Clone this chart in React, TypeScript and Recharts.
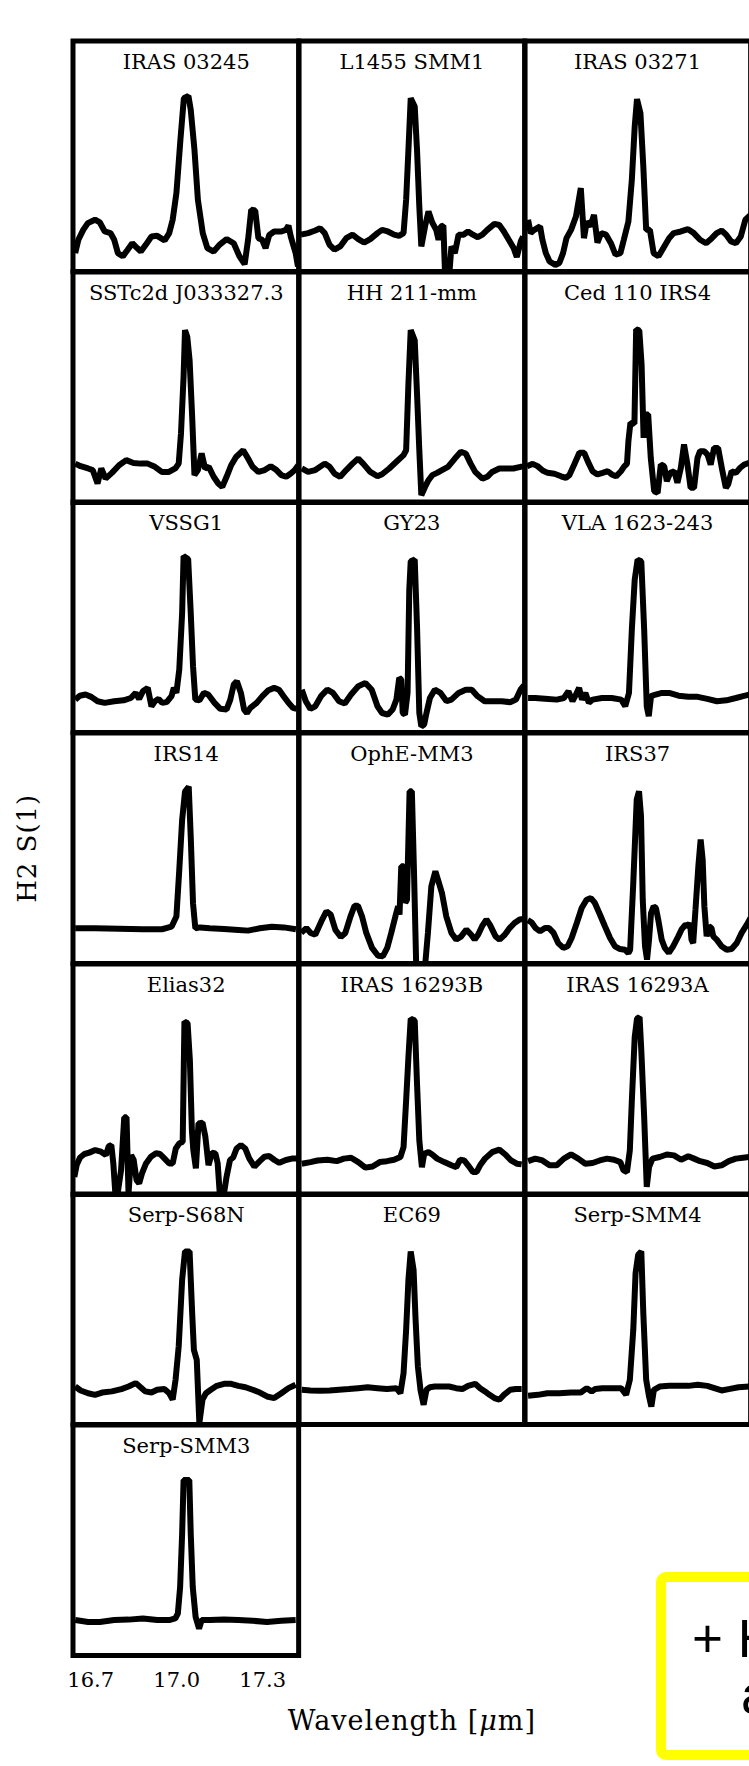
import React from 'react';
import { LineChart, Line, XAxis, YAxis, ReferenceArea } from 'recharts';

// H2 S(1) 17.03 um line profiles, one panel per source.
// Flux is in arbitrary units: 0 = bottom of the panel frame, 100 = top.
type Pt = [number, number];

const iras03245: Pt[] = [
  [16.646, 8.0], [16.657, 13.8], [16.674, 18.1], [16.69, 21.0], [16.715, 22.5], [16.732, 21.3], [16.749, 17.4],
  [16.769, 16.7], [16.782, 13.8], [16.795, 8.0], [16.812, 6.6], [16.829, 9.5], [16.845, 12.3], [16.862, 10.2],
  [16.875, 8.7], [16.892, 11.6], [16.912, 15.2], [16.932, 15.5], [16.958, 13.5], [16.974, 16.7], [16.986, 22.5],
  [16.999, 34.0], [17.013, 57.2], [17.025, 75.2], [17.041, 76.2], [17.049, 70.2], [17.062, 52.8], [17.074, 31.1],
  [17.091, 16.7], [17.107, 10.2], [17.129, 8.7], [17.149, 11.6], [17.174, 14.1], [17.199, 12.3], [17.219, 6.6],
  [17.237, 3.2], [17.249, 13.8], [17.26, 26.8], [17.274, 26.5], [17.285, 14.5], [17.298, 13.8], [17.31, 10.2],
  [17.323, 15.9], [17.34, 17.4], [17.365, 17.4], [17.381, 18.1], [17.39, 19.9], [17.398, 15.2], [17.415, 8.0],
  [17.423, 2.2],
];

const l1455smm1: Pt[] = [
  [16.645, 16.0], [16.67, 16.7], [16.695, 17.8], [16.712, 18.8], [16.728, 16.7], [16.745, 11.6], [16.762, 9.5],
  [16.782, 10.9], [16.803, 14.5], [16.825, 16.0], [16.845, 14.1], [16.865, 12.6], [16.887, 14.1], [16.912, 16.7],
  [16.928, 18.1], [16.948, 17.4], [16.97, 16.0], [16.987, 15.5], [17.003, 16.7], [17.012, 31.1], [17.02, 52.8],
  [17.028, 75.2], [17.042, 71.6], [17.05, 52.8], [17.058, 28.2], [17.065, 10.9], [17.078, 19.6], [17.09, 26.1],
  [17.103, 21.3], [17.117, 18.1], [17.125, 13.8], [17.133, 19.6], [17.142, 19.9], [17.148, -2.0], [17.162, -2.0],
  [17.17, 10.9], [17.182, 8.0], [17.195, 16.0], [17.212, 16.0], [17.228, 17.4], [17.245, 16.0], [17.262, 14.9],
  [17.278, 16.0], [17.295, 18.1], [17.32, 20.7], [17.337, 20.2], [17.353, 17.4], [17.37, 13.8], [17.387, 10.2],
  [17.398, 6.3], [17.412, 13.1], [17.42, 15.2],
];

const iras03271: Pt[] = [
  [16.649, 22.5], [16.658, 16.7], [16.671, 18.1], [16.691, 19.6], [16.699, 13.8], [16.711, 8.0], [16.724, 4.4],
  [16.744, 2.9], [16.758, 3.7], [16.771, 8.0], [16.783, 14.5], [16.799, 18.1], [16.816, 23.9], [16.833, 36.2],
  [16.844, 14.5], [16.854, 21.7], [16.866, 19.6], [16.879, 24.6], [16.891, 12.6], [16.904, 16.7], [16.921, 16.0],
  [16.938, 12.3], [16.954, 7.3], [16.971, 8.0], [16.983, 13.8], [16.999, 21.7], [17.011, 39.8], [17.021, 62.9],
  [17.029, 74.8], [17.041, 68.7], [17.051, 45.6], [17.061, 18.1], [17.074, 18.1], [17.087, 8.0], [17.104, 6.6],
  [17.124, 10.9], [17.141, 14.5], [17.157, 16.7], [17.182, 17.4], [17.207, 18.4], [17.227, 16.7], [17.249, 13.8],
  [17.27, 12.3], [17.29, 14.5], [17.307, 16.7], [17.324, 17.8], [17.34, 16.0], [17.357, 13.1], [17.374, 12.3],
  [17.391, 15.2], [17.407, 22.5], [17.424, 24.5],
];

const sstc2d: Pt[] = [
  [16.646, 16.9], [16.665, 15.8], [16.691, 14.8], [16.707, 14.1], [16.724, 8.3], [16.737, 14.8], [16.752, 10.4],
  [16.774, 12.9], [16.799, 16.2], [16.824, 18.4], [16.849, 17.2], [16.874, 16.9], [16.899, 16.9], [16.924, 15.5],
  [16.948, 13.3], [16.973, 13.3], [16.995, 14.8], [17.007, 16.9], [17.015, 30.0], [17.024, 54.5], [17.029, 74.8],
  [17.037, 71.8], [17.045, 61.8], [17.054, 37.2], [17.062, 11.9], [17.074, 14.1], [17.087, 21.3], [17.099, 14.8],
  [17.112, 15.5], [17.129, 11.2], [17.145, 8.3], [17.159, 6.8], [17.174, 11.2], [17.19, 16.2], [17.207, 19.8],
  [17.232, 22.7], [17.249, 19.1], [17.265, 15.5], [17.285, 13.3], [17.307, 14.1], [17.328, 15.8], [17.348, 14.1],
  [17.365, 11.9], [17.382, 11.2], [17.398, 12.6], [17.412, 14.1], [17.424, 16.2],
];

const hh211mm: Pt[] = [
  [16.648, 14.8], [16.67, 13.3], [16.695, 14.1], [16.728, 16.9], [16.745, 15.5], [16.762, 12.6], [16.782, 11.2],
  [16.803, 14.1], [16.825, 16.9], [16.845, 19.1], [16.862, 16.9], [16.887, 13.3], [16.912, 11.4], [16.928, 12.3],
  [16.953, 14.8], [16.978, 17.7], [17.003, 20.6], [17.012, 22.7], [17.02, 51.6], [17.028, 74.8], [17.042, 70.4],
  [17.05, 47.3], [17.058, 22.7], [17.065, 3.2], [17.078, 6.8], [17.09, 9.7], [17.103, 11.9], [17.12, 12.9],
  [17.137, 14.1], [17.158, 15.5], [17.182, 19.1], [17.203, 22.0], [17.22, 21.3], [17.237, 16.9], [17.253, 13.3],
  [17.278, 10.4], [17.295, 11.2], [17.312, 13.3], [17.337, 14.8], [17.361, 14.8], [17.386, 14.8], [17.411, 15.5],
  [17.424, 15.6],
];

const ced110irs4: Pt[] = [
  [16.645, 15.8], [16.665, 16.8], [16.682, 15.8], [16.7, 13.9], [16.717, 12.9], [16.741, 12.5], [16.764, 11.4],
  [16.781, 10.7], [16.793, 11.9], [16.81, 16.5], [16.828, 21.6], [16.845, 21.6], [16.857, 18.0], [16.874, 13.6],
  [16.891, 12.2], [16.909, 12.9], [16.927, 13.6], [16.941, 12.2], [16.956, 11.4], [16.973, 13.6], [16.985, 15.8],
  [16.994, 16.8], [16.999, 26.6], [17.006, 34.6], [17.02, 34.2], [17.026, 75.1], [17.037, 74.7], [17.045, 59.9],
  [17.052, 28.1], [17.06, 38.2], [17.068, 38.2], [17.077, 19.4], [17.089, 4.9], [17.101, 4.2], [17.112, 16.5],
  [17.124, 15.8], [17.133, 9.3], [17.145, 12.9], [17.159, 13.6], [17.17, 8.6], [17.182, 15.1], [17.193, 25.2],
  [17.205, 16.5], [17.216, 6.4], [17.228, 6.4], [17.24, 19.4], [17.249, 22.3], [17.263, 22.3], [17.275, 20.8],
  [17.286, 16.5], [17.298, 23.7], [17.312, 23.7], [17.327, 13.6], [17.339, 6.4], [17.347, 7.9], [17.359, 13.6],
  [17.374, 12.9], [17.389, 15.1], [17.403, 16.5], [17.42, 17.2],
];

const vssg1: Pt[] = [
  [16.646, 14.3], [16.662, 16.0], [16.682, 16.5], [16.702, 15.5], [16.724, 13.6], [16.749, 12.9], [16.782, 13.6],
  [16.815, 14.0], [16.84, 15.0], [16.857, 17.2], [16.869, 14.6], [16.882, 17.9], [16.899, 19.4], [16.912, 11.4],
  [16.924, 13.6], [16.937, 14.6], [16.949, 12.9], [16.965, 13.2], [16.982, 15.8], [16.99, 19.4], [16.999, 17.2],
  [17.009, 27.3], [17.019, 51.9], [17.024, 76.5], [17.04, 75.3], [17.049, 51.9], [17.057, 28.8], [17.065, 14.3],
  [17.079, 14.0], [17.095, 17.2], [17.11, 16.5], [17.132, 12.9], [17.152, 10.3], [17.174, 10.0], [17.187, 14.3],
  [17.199, 20.8], [17.21, 22.3], [17.224, 17.2], [17.235, 10.0], [17.245, 8.5], [17.257, 10.7], [17.279, 12.9],
  [17.299, 15.8], [17.32, 18.4], [17.34, 19.4], [17.357, 18.6], [17.373, 15.8], [17.39, 12.9], [17.406, 10.7],
  [17.418, 10.3],
];

const gy23: Pt[] = [
  [16.648, 18.6], [16.662, 13.6], [16.678, 10.3], [16.695, 11.4], [16.715, 15.8], [16.737, 18.6], [16.757, 17.2],
  [16.778, 13.6], [16.798, 12.6], [16.82, 16.5], [16.845, 20.1], [16.87, 21.5], [16.892, 18.6], [16.912, 11.4],
  [16.928, 8.5], [16.948, 7.8], [16.965, 10.0], [16.978, 14.3], [16.988, 23.7], [16.995, 23.0], [17.0, 8.5],
  [17.008, 7.8], [17.017, 17.2], [17.023, 62.0], [17.028, 74.3], [17.042, 75.0], [17.05, 46.1], [17.058, 8.5],
  [17.065, 2.7], [17.075, 3.5], [17.083, 8.5], [17.095, 15.0], [17.112, 18.6], [17.132, 17.2], [17.153, 13.6],
  [17.17, 14.3], [17.195, 17.2], [17.22, 18.6], [17.241, 18.6], [17.261, 15.8], [17.286, 13.6], [17.311, 13.6],
  [17.345, 13.6], [17.375, 13.2], [17.395, 14.3], [17.411, 18.6], [17.423, 20.5],
];

const vla1623: Pt[] = [
  [16.649, 15.0], [16.674, 15.0], [16.708, 14.7], [16.749, 14.3], [16.774, 15.0], [16.79, 17.9], [16.804, 13.6],
  [16.816, 16.5], [16.827, 19.4], [16.837, 14.3], [16.849, 17.2], [16.861, 12.9], [16.874, 14.3], [16.907, 15.0],
  [16.941, 15.0], [16.974, 14.3], [16.988, 11.4], [17.001, 17.2], [17.011, 44.7], [17.021, 66.3], [17.031, 75.0],
  [17.044, 74.3], [17.054, 44.7], [17.063, 11.4], [17.07, 7.1], [17.078, 15.8], [17.094, 16.5], [17.116, 17.2],
  [17.141, 17.2], [17.174, 16.0], [17.208, 15.5], [17.241, 15.5], [17.274, 14.6], [17.308, 13.6], [17.341, 14.0],
  [17.374, 15.0], [17.399, 15.8], [17.421, 16.5],
];

const irs14: Pt[] = [
  [16.646, 15.3], [16.715, 15.3], [16.799, 15.1], [16.882, 14.9], [16.949, 14.9], [16.982, 16.0], [16.999, 20.4],
  [17.009, 40.6], [17.019, 62.3], [17.029, 74.6], [17.042, 76.7], [17.049, 55.0], [17.057, 26.1], [17.065, 15.3],
  [17.082, 15.7], [17.115, 15.3], [17.165, 15.0], [17.215, 14.6], [17.249, 14.3], [17.29, 15.3], [17.332, 16.0],
  [17.374, 15.7], [17.416, 14.9],
];

const ophemm3: Pt[] = [
  [16.646, 13.3], [16.664, 15.4], [16.679, 13.3], [16.695, 12.5], [16.716, 18.3], [16.734, 22.7], [16.749, 21.2],
  [16.765, 14.7], [16.784, 11.5], [16.8, 13.3], [16.818, 20.5], [16.832, 25.1], [16.844, 25.1], [16.858, 20.5],
  [16.873, 13.3], [16.893, 6.8], [16.914, 3.4], [16.931, 3.2], [16.946, 6.8], [16.96, 13.3], [16.976, 21.2],
  [16.984, 24.8], [16.989, 21.2], [16.995, 42.2], [17.004, 42.2], [17.009, 26.3], [17.015, 27.7], [17.024, 74.7],
  [17.032, 74.7], [17.039, 42.2], [17.047, 0.1], [17.059, -2.6], [17.077, -2.6], [17.088, 13.3], [17.1, 33.5],
  [17.114, 40.0], [17.123, 36.4], [17.137, 30.6], [17.152, 20.5], [17.17, 13.3], [17.187, 10.4], [17.204, 11.8],
  [17.222, 14.7], [17.239, 12.5], [17.251, 10.4], [17.263, 12.5], [17.277, 16.2], [17.292, 19.1], [17.304, 16.9],
  [17.324, 11.8], [17.338, 10.4], [17.356, 12.5], [17.373, 15.4], [17.39, 17.6], [17.408, 19.1], [17.42, 19.3],
];

const irs37: Pt[] = [
  [16.648, 18.8], [16.661, 17.9], [16.675, 15.4], [16.691, 14.0], [16.708, 15.4], [16.722, 15.4], [16.738, 13.3],
  [16.754, 8.9], [16.772, 6.8], [16.787, 7.5], [16.801, 11.1], [16.819, 17.6], [16.836, 24.1], [16.853, 27.7],
  [16.868, 28.4], [16.882, 26.3], [16.9, 21.2], [16.917, 16.2], [16.935, 11.1], [16.952, 7.5], [16.97, 6.3],
  [16.987, 6.0], [16.999, 4.6], [17.005, 6.0], [17.016, 35.0], [17.028, 71.1], [17.036, 74.7], [17.043, 63.9],
  [17.049, 27.7], [17.057, 7.5], [17.064, 1.7], [17.071, 10.4], [17.078, 21.9], [17.087, 24.8], [17.095, 24.1],
  [17.103, 19.1], [17.115, 10.4], [17.126, 6.8], [17.14, 4.6], [17.155, 7.5], [17.173, 11.8], [17.184, 14.7],
  [17.198, 16.9], [17.208, 16.2], [17.214, 17.6], [17.219, 10.4], [17.225, 8.9], [17.233, 23.4], [17.243, 42.2],
  [17.251, 53.8], [17.258, 45.1], [17.264, 24.8], [17.272, 11.8], [17.28, 16.2], [17.289, 15.4], [17.295, 11.8],
  [17.307, 10.4], [17.324, 7.5], [17.342, 6.0], [17.359, 6.3], [17.377, 8.9], [17.394, 13.3], [17.412, 16.9],
  [17.425, 19.8],
];

const elias32: Pt[] = [
  [16.643, 7.7], [16.651, 12.8], [16.663, 16.1], [16.678, 17.6], [16.695, 18.2], [16.716, 19.3], [16.736, 18.6],
  [16.753, 17.1], [16.763, 21.0], [16.772, 21.5], [16.779, 13.5], [16.786, 0.5], [16.794, 0.5], [16.806, 10.6],
  [16.817, 33.5], [16.825, 33.5], [16.832, 0.5], [16.841, 17.1], [16.85, 15.0], [16.86, 6.3], [16.869, 4.9],
  [16.879, 9.2], [16.893, 13.5], [16.91, 16.4], [16.928, 17.9], [16.942, 17.6], [16.957, 15.7], [16.974, 13.5],
  [16.986, 13.5], [16.997, 20.0], [17.009, 22.2], [17.021, 22.9], [17.027, 75.0], [17.038, 74.3], [17.046, 58.3],
  [17.053, 27.9], [17.058, 19.3], [17.067, 11.4], [17.076, 30.9], [17.09, 31.2], [17.1, 25.1], [17.111, 12.8],
  [17.123, 18.2], [17.135, 17.9], [17.143, 13.5], [17.151, -1.0], [17.163, -1.0], [17.174, 7.7], [17.186, 15.0],
  [17.197, 16.1], [17.209, 20.0], [17.224, 21.5], [17.239, 20.0], [17.253, 15.7], [17.271, 12.1], [17.288, 14.3],
  [17.306, 16.4], [17.323, 16.7], [17.341, 15.0], [17.358, 13.8], [17.381, 15.0], [17.405, 15.7], [17.422, 15.7],
];

const iras16293b: Pt[] = [
  [16.648, 13.4], [16.678, 14.1], [16.703, 14.8], [16.737, 15.1], [16.77, 14.5], [16.795, 15.6], [16.82, 16.0],
  [16.845, 14.1], [16.87, 11.7], [16.895, 12.2], [16.92, 14.1], [16.945, 14.5], [16.97, 15.1], [16.992, 16.3],
  [17.003, 20.6], [17.012, 40.8], [17.02, 59.6], [17.028, 76.3], [17.042, 75.5], [17.05, 48.1], [17.058, 23.5],
  [17.067, 11.9], [17.075, 17.7], [17.09, 18.4], [17.103, 17.4], [17.12, 15.6], [17.145, 14.1], [17.17, 12.7],
  [17.187, 11.9], [17.2, 15.1], [17.215, 14.8], [17.228, 12.7], [17.245, 9.8], [17.258, 9.8], [17.27, 12.7],
  [17.287, 15.6], [17.312, 18.4], [17.337, 19.5], [17.358, 17.4], [17.378, 14.8], [17.398, 13.4], [17.415, 13.1],
];

const iras16293a: Pt[] = [
  [16.649, 14.5], [16.674, 15.6], [16.699, 14.8], [16.724, 12.7], [16.749, 12.7], [16.774, 15.6], [16.799, 17.4],
  [16.824, 15.6], [16.849, 13.4], [16.874, 13.7], [16.899, 14.8], [16.924, 15.6], [16.949, 15.1], [16.971, 14.1],
  [16.982, 10.5], [16.994, 9.8], [17.004, 19.2], [17.011, 40.8], [17.021, 68.3], [17.029, 76.3], [17.038, 77.0],
  [17.044, 62.5], [17.054, 33.6], [17.063, 3.3], [17.071, 11.9], [17.083, 15.6], [17.108, 16.3], [17.133, 17.4],
  [17.158, 17.0], [17.183, 15.1], [17.208, 16.6], [17.228, 15.6], [17.249, 14.5], [17.274, 13.7], [17.299, 12.2],
  [17.324, 12.7], [17.349, 14.5], [17.374, 15.6], [17.399, 16.0], [17.421, 16.3],
];

const serpS68n: Pt[] = [
  [16.646, 16.5], [16.665, 14.8], [16.691, 13.6], [16.715, 12.9], [16.74, 13.9], [16.774, 14.4], [16.807, 15.4],
  [16.832, 16.5], [16.857, 18.0], [16.874, 16.2], [16.89, 14.4], [16.912, 13.9], [16.932, 15.1], [16.957, 15.4],
  [16.974, 13.6], [16.986, 10.8], [16.996, 19.4], [17.007, 33.9], [17.019, 62.8], [17.029, 75.1], [17.045, 75.1],
  [17.054, 48.3], [17.06, 32.4], [17.07, 28.1], [17.079, 0.6], [17.09, 10.8], [17.102, 13.6], [17.119, 15.1],
  [17.14, 16.8], [17.165, 17.7], [17.19, 17.7], [17.215, 16.8], [17.24, 16.2], [17.265, 15.1], [17.29, 13.9],
  [17.315, 12.2], [17.34, 11.5], [17.365, 13.6], [17.39, 15.8], [17.415, 17.3],
];

const ec69: Pt[] = [
  [16.648, 15.1], [16.678, 14.8], [16.712, 14.7], [16.745, 14.8], [16.778, 15.1], [16.812, 15.4], [16.845, 15.8],
  [16.878, 16.2], [16.912, 15.8], [16.945, 15.4], [16.978, 15.8], [16.992, 13.6], [17.003, 22.3], [17.012, 41.1],
  [17.02, 62.8], [17.028, 75.1], [17.038, 67.1], [17.045, 45.4], [17.053, 25.2], [17.062, 15.1], [17.073, 8.6],
  [17.083, 15.1], [17.095, 16.2], [17.112, 16.5], [17.137, 16.5], [17.162, 16.5], [17.186, 15.8], [17.208, 15.4],
  [17.228, 16.8], [17.253, 17.7], [17.27, 15.8], [17.287, 14.4], [17.303, 12.9], [17.32, 11.5], [17.337, 10.8],
  [17.353, 12.9], [17.375, 15.1], [17.395, 15.4], [17.415, 15.4],
];

const serpSmm4: Pt[] = [
  [16.649, 12.5], [16.683, 12.9], [16.716, 13.6], [16.758, 13.6], [16.799, 13.9], [16.833, 13.9], [16.854, 15.8],
  [16.871, 14.4], [16.883, 15.4], [16.908, 15.8], [16.941, 15.8], [16.974, 15.8], [16.991, 12.9], [17.004, 19.4],
  [17.016, 41.1], [17.024, 65.7], [17.033, 73.6], [17.044, 75.1], [17.051, 48.3], [17.061, 19.4], [17.071, 12.2],
  [17.079, 7.8], [17.088, 15.1], [17.108, 16.5], [17.141, 16.8], [17.174, 16.8], [17.208, 16.8], [17.241, 17.3],
  [17.274, 16.8], [17.299, 15.8], [17.324, 14.8], [17.349, 15.4], [17.383, 16.2], [17.421, 16.5],
];

const serpSmm3: Pt[] = [
  [16.646, 15.4], [16.691, 14.6], [16.732, 14.6], [16.782, 15.4], [16.832, 15.6], [16.882, 16.1], [16.932, 15.4],
  [16.974, 15.4], [16.995, 16.1], [17.004, 18.2], [17.012, 29.8], [17.019, 52.9], [17.024, 76.1], [17.044, 76.1],
  [17.049, 52.9], [17.056, 29.8], [17.066, 16.8], [17.078, 11.7], [17.087, 15.4], [17.116, 15.4], [17.165, 15.6],
  [17.215, 15.4], [17.265, 15.1], [17.315, 14.6], [17.365, 15.1], [17.415, 15.4],
];

const PANELS: { name: string; pts: Pt[] }[] = [
  { name: 'IRAS 03245', pts: iras03245 },
  { name: 'L1455 SMM1', pts: l1455smm1 },
  { name: 'IRAS 03271', pts: iras03271 },
  { name: 'SSTc2d J033327.3', pts: sstc2d },
  { name: 'HH 211-mm', pts: hh211mm },
  { name: 'Ced 110 IRS4', pts: ced110irs4 },
  { name: 'VSSG1', pts: vssg1 },
  { name: 'GY23', pts: gy23 },
  { name: 'VLA 1623-243', pts: vla1623 },
  { name: 'IRS14', pts: irs14 },
  { name: 'OphE-MM3', pts: ophemm3 },
  { name: 'IRS37', pts: irs37 },
  { name: 'Elias32', pts: elias32 },
  { name: 'IRAS 16293B', pts: iras16293b },
  { name: 'IRAS 16293A', pts: iras16293a },
  { name: 'Serp-S68N', pts: serpS68n },
  { name: 'EC69', pts: ec69 },
  { name: 'Serp-SMM4', pts: serpSmm4 },
  { name: 'Serp-SMM3', pts: serpSmm3 },
];

const TICKS = [16.7, 17.0, 17.3];
const X_DOMAIN: [number, number] = [16.6383, 17.4254];
const Y_DOMAIN: [number, number] = [0, 100];

const X_TITLE = 'Wavelength [';
const Y_TITLE = 'H2 S(1)';

// Grid geometry
const GRID_LEFT = 73.4;
const GRID_TOP = 41.2;
const COL_W = 225.65;
const ROW_H = 230.6;
const PAD = 6;
const LABEL_BAND = 44;
const NCOL = 3;

const SERIF = '"DejaVu Serif", serif';
const SANS = '"Liberation Sans", Arial, sans-serif';

const tickAxisProps = {
  type: 'number' as const,
  dataKey: 'w',
  domain: X_DOMAIN,
  allowDataOverflow: true,
  ticks: TICKS,
  interval: 0 as const,
  mirror: true,
  axisLine: false,
  tick: false,
  tickSize: 6.5,
  tickLine: { stroke: '#000', strokeWidth: 4 },
};

function Panel({ name, pts, index, last }: { name: string; pts: Pt[]; index: number; last: boolean }) {
  const r = Math.floor(index / NCOL);
  const c = index % NCOL;
  const left = GRID_LEFT + c * COL_W;
  const top = GRID_TOP + r * ROW_H;
  const data = pts.map(([w, f]) => ({ w, f }));
  const height = PAD + ROW_H + (last ? LABEL_BAND : PAD);
  return (
    <div style={{ position: 'absolute', left: left - PAD, top: top - PAD }}>
      <LineChart
        width={COL_W + 2 * PAD}
        height={height}
        data={data}
        margin={{ top: PAD, right: PAD, bottom: last ? 0 : PAD, left: PAD }}
      >
        <XAxis xAxisId="b" {...tickAxisProps} />
        <XAxis xAxisId="t" orientation="top" {...tickAxisProps} />
        {last && (
          <XAxis
            xAxisId="lbl"
            type="number"
            dataKey="w"
            domain={X_DOMAIN}
            allowDataOverflow
            ticks={TICKS}
            interval={0}
            height={LABEL_BAND}
            axisLine={false}
            tickLine={false}
            tickSize={0}
            tickMargin={17}
            tickFormatter={(v: number) => v.toFixed(1)}
            tick={{ fontFamily: SERIF, fontSize: 21, fill: '#000' }}
          />
        )}
        <YAxis domain={Y_DOMAIN} allowDataOverflow hide />
        <ReferenceArea
          xAxisId="b"
          x1={X_DOMAIN[0]}
          x2={X_DOMAIN[1]}
          y1={0}
          y2={100}
          fill="none"
          fillOpacity={0}
          stroke="#000"
          strokeWidth={5}
          ifOverflow="visible"
        />
        <Line
          xAxisId="b"
          type="linear"
          dataKey="f"
          stroke="#000"
          strokeWidth={6}
          strokeLinejoin="bevel"
          dot={false}
          activeDot={false}
          isAnimationActive={false}
        />
      </LineChart>
      <div
        style={{
          position: 'absolute',
          left: PAD,
          top: PAD + 8,
          width: COL_W,
          textAlign: 'center',
          fontFamily: SERIF,
          fontSize: 21,
          lineHeight: '26px',
          color: '#000',
          whiteSpace: 'nowrap',
        }}
      >
        {name}
      </div>
    </div>
  );
}

export default function App() {
  const gridH = Math.ceil(PANELS.length / NCOL) * ROW_H;
  return (
    <div
      style={{
        position: 'absolute',
        left: 0,
        top: 0,
        width: 749,
        height: 1766,
        overflow: 'hidden',
        background: '#fff',
      }}
    >
      {PANELS.map((p, i) => (
        <Panel key={p.name} name={p.name} pts={p.pts} index={i} last={i === PANELS.length - 1} />
      ))}
      <svg
        width={749}
        height={1766}
        style={{ position: 'absolute', left: 0, top: 0, pointerEvents: 'none' }}
      >
        <text
          x={36}
          y={GRID_TOP + gridH / 2}
          transform={`rotate(-90 36 ${GRID_TOP + gridH / 2})`}
          textAnchor="middle"
          fontFamily={SERIF}
          fontSize={26}
          letterSpacing={1}
          fill="#000"
        >
          {Y_TITLE}
        </text>
        <text
          x={GRID_LEFT + (NCOL * COL_W) / 2}
          y={1730}
          textAnchor="middle"
          fontFamily={SERIF}
          fontSize={27}
          letterSpacing={1}
          fill="#000"
        >
          {X_TITLE}
          <tspan fontStyle="italic">μ</tspan>
          m]
        </text>
        <rect x={661} y={1577} width={120} height={178} rx={5} fill="none" stroke="#ffff00" strokeWidth={10} />
        <text x={692} y={1657} fontFamily={SANS} fontSize={53} fill="#000">
          + H
        </text>
        <text x={741} y={1713} fontFamily={SANS} fontSize={53} fill="#000">
          a
        </text>
      </svg>
    </div>
  );
}
